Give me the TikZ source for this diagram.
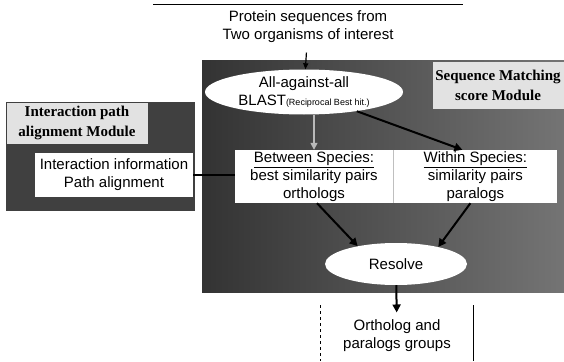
\documentclass[tikz,border=0pt]{standalone}
\usepackage{fontspec}
\setmainfont{Liberation Serif}
\setsansfont{Liberation Sans}
\usetikzlibrary{arrows.meta,positioning,shapes.geometric}
\definecolor{PanelDark}{HTML}{333333}
\definecolor{PanelLight}{HTML}{747474}
\definecolor{ModuleGray}{HTML}{E2E2E2}

\begin{document}
\begin{tikzpicture}[x=1pt,y=-1pt,
  txt/.style={font=\sffamily\fontsize{15}{18}\selectfont,align=center},
  oval/.style={ellipse,fill=white,txt,inner xsep=0pt,inner ysep=-4pt},
  wbox/.style={rectangle,fill=white,txt,inner sep=0pt},
  modlbl/.style={rectangle,fill=ModuleGray,font=\bfseries\fontsize{15}{20}\selectfont,align=center,inner sep=0pt},
  flow/.style={-{Triangle[length=8pt,width=8pt]},line width=2pt}]
\useasboundingbox (0,0) rectangle (564,361);
% panels
\shade[left color=PanelDark,right color=PanelLight] (202,60) rectangle (564,292);
\fill[PanelDark!80!PanelLight] (6,102) rectangle (195,211);
\draw[line width=1pt] (153,5)--(463,5);
\node[txt] (src) at (308,27) {Protein sequences from\\Two organisms of interest};
\node[modlbl,minimum width=141pt,minimum height=41pt] (pathmod) at (77,123) {Interaction path\\alignment Module};
\node[modlbl,minimum width=131pt,minimum height=47pt] (seqmod) at (498,85) {Sequence Matching\\score Module};
\node[oval,minimum width=198pt,minimum height=45pt] (blast) at (304,92) {All-against-all\\BLAST{\fontsize{9}{10}\selectfont(Reciprocal Best hit.)}};
\node[wbox,minimum width=158pt,minimum height=44pt] (info) at (114,175) {Interaction information\\Path alignment};
\node[wbox,minimum width=158pt,minimum height=53pt] (between) at (314,176.5) {\underline{Between Species:}\\best similarity pairs\\orthologs};
\node[wbox,minimum width=164pt,minimum height=53pt,right=0pt of between] (within) {\underline{Within Species:}\\similarity pairs\\paralogs};
\draw[gray!50] (between.north east)--(between.south east);
\node[oval,minimum width=142pt,minimum height=42pt] (resolve) at (396,264) {Resolve};
\node[txt] (out) at (397,336) {Ortholog and\\paralogs groups};
\draw[dashed] (320,305)--(320,361);\draw[line width=1pt] (473,305)--(473,361);
% connectors
\draw[-{Triangle[length=6pt,width=5pt]},line width=1.2pt,shorten <=6pt] (src)--(blast);
\draw[-{Triangle[length=7pt,width=7pt]},gray!55,line width=1.5pt] (blast.south -| between.north)--(between.north);
\draw[flow] (blast.-20)--([xshift=-13pt]within.north);
\draw[flow] ([xshift=3pt]between.south)--(resolve.155);
\draw[flow] ([xshift=-5pt]within.south)--(resolve.22);
\draw[flow,shorten >=4pt] (resolve)--(out);
\draw[line width=1.2pt] (info.east)--(info.east -| between.west);
\end{tikzpicture}
\end{document}
